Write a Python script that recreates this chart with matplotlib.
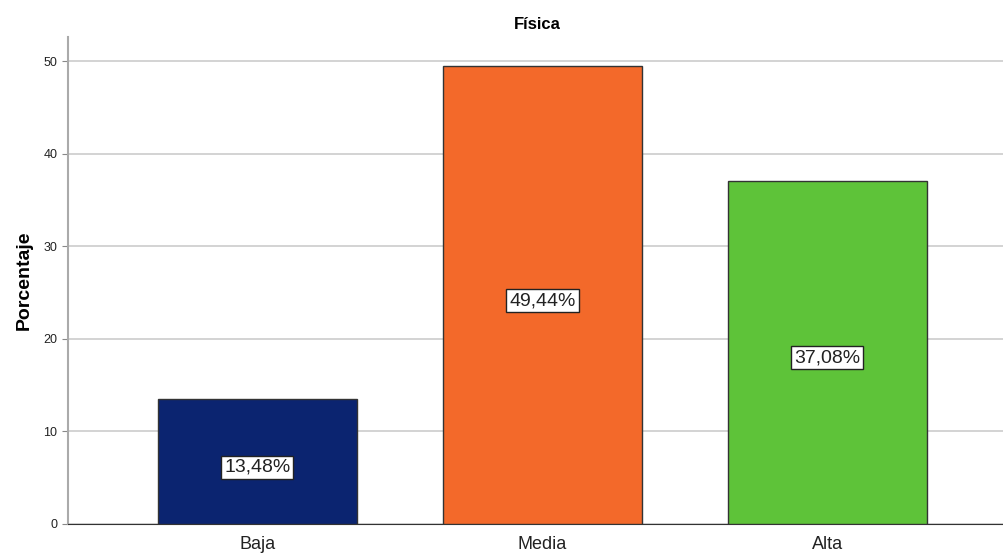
import matplotlib
matplotlib.use('Agg')
import matplotlib.pyplot as plt

plt.rcParams['font.family'] = ['Liberation Sans', 'DejaVu Sans']

categorias = ['Baja', 'Media', 'Alta']
porcentajes = [13.48, 49.44, 37.08]
etiquetas = ['13,48%', '49,44%', '37,08%']
colores = ['#0b2470', '#f3692a', '#5ec339']

fig = plt.figure(figsize=(10.04, 5.55), dpi=100)
ax = fig.add_axes([0.0677, 0.0559, 0.9323, 0.8774])

x = range(len(categorias))
ax.bar(x, porcentajes, width=0.7, color=colores, edgecolor='#333333', linewidth=1, zorder=3)

for i, v in enumerate(porcentajes):
    ax.annotate(etiquetas[i], (i, v / 2), xytext=(0, -4), textcoords='offset points',
                ha='center', va='center', fontsize=14, color='#222222',
                bbox=dict(boxstyle='square,pad=0.15', fc='white', ec='#222222', lw=1), zorder=4)

ax.set_xlim(-0.665, 2.62)
ax.set_ylim(0, 52.6)
ax.set_yticks([0, 10, 20, 30, 40, 50])
ax.set_xticks(list(x))
ax.set_xticklabels(categorias, fontsize=13, color='#222222')
ax.tick_params(axis='y', labelsize=9, colors='#222222', length=4, color='#888888')
ax.tick_params(axis='x', length=0, pad=9)
ax.yaxis.grid(True, color='#cccccc', linewidth=1.2, zorder=0)
ax.set_axisbelow(True)

for s in ['top', 'right']:
    ax.spines[s].set_visible(False)
ax.spines['left'].set_color('#aaaaaa')
ax.spines['left'].set_linewidth(1.5)
ax.spines['bottom'].set_color('#333333')

ax.set_ylabel('Porcentaje', fontsize=14, fontweight='bold', labelpad=8)
fig.text(0.535, 0.955, 'Física', ha='center', va='center', fontsize=12, fontweight='bold')

fig.savefig('out.png', dpi=100)
